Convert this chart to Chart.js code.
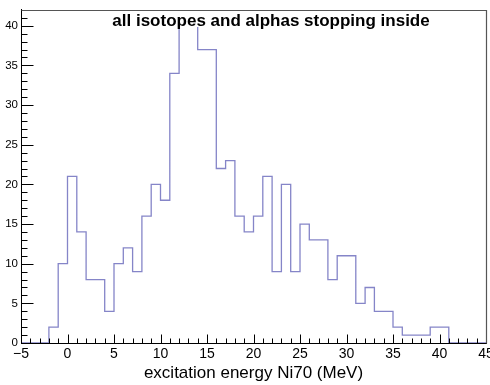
<!DOCTYPE html>
<html>
<head>
<meta charset="utf-8">
<script src="https://cdn.jsdelivr.net/npm/chart.js@4/dist/chart.umd.min.js"></script>
<style>
  html, body { margin: 0; padding: 0; background: #fff; }
  #wrap { width: 490px; height: 385px; position: relative; }
</style>
</head>
<body>
<div id="wrap"><canvas id="histo"></canvas></div>
<script>
// histogram bins (low edges, 1 MeV wide) and counts
const binLowEdges = [
  -5, -4, -3, -2, -1, 0, 1, 2, 3, 4,
  5, 6, 7, 8, 9, 10, 11, 12, 13, 14,
  15, 16, 17, 18, 19, 20, 21, 22, 23, 24,
  25, 26, 27, 28, 29, 30, 31, 32, 33, 34,
  35, 36, 37, 38, 39, 40, 41, 42, 43, 44
];
const lastEdge = 45;
const counts = [
  0, 0, 0, 2, 10, 21, 14, 8, 8, 4,
  10, 12, 9, 16, 20, 18, 34, 40, 40, 37,
  37, 22, 23, 16, 14, 16, 21, 9, 20, 9,
  15, 13, 13, 8, 11, 11, 5, 7, 4, 4,
  2, 1, 1, 1, 2, 2, 0, 0, 0, 0
];

const xTicks = [-5, 0, 5, 10, 15, 20, 25, 30, 35, 40, 45];
const yTicks = [0, 5, 10, 15, 20, 25, 30, 35, 40];

const titleText = 'all isotopes and alphas stopping inside';
const xTitle = 'excitation energy Ni70 (MeV)';

const lineColor = '#8585c8';
const fontFam = '"Liberation Sans", Arial, sans-serif';

// step points: each bin's low edge with its count, then the closing edge
const points = binLowEdges.map((x, i) => ({ x: x, y: counts[i] }));
points.push({ x: lastEdge, y: counts[counts.length - 1] });

// ROOT-like frame: inner ticks (major + minor), axes redrawn on top, title inside pad
const rootFrame = {
  id: 'rootFrame',
  afterDraw(chart) {
    const ctx = chart.ctx;
    const a = chart.chartArea;
    const xs = chart.scales.x;
    const ys = chart.scales.y;
    const bottom = Math.round(a.bottom) + 0.5;
    const left = Math.round(a.left) + 0.5;

    ctx.save();
    ctx.strokeStyle = '#000';
    ctx.lineWidth = 1;

    // axis lines over the histogram (the zero level runs along the x axis)
    ctx.beginPath();
    ctx.moveTo(left, a.top);
    ctx.lineTo(left, bottom);
    ctx.lineTo(a.right, bottom);
    ctx.stroke();

    // x axis ticks pointing up
    for (let v = xs.min; v <= xs.max; v++) {
      const px = Math.round(xs.getPixelForValue(v)) + 0.5;
      const len = (v % 5 === 0) ? 9 : 5;
      ctx.beginPath();
      ctx.moveTo(px, bottom);
      ctx.lineTo(px, bottom - len);
      ctx.stroke();
    }
    // y axis ticks pointing right
    for (let v = 0; v <= 41; v++) {
      const py = Math.round(ys.getPixelForValue(v)) + 0.5;
      const len = (v % 5 === 0) ? 12 : 6;
      ctx.beginPath();
      ctx.moveTo(left, py);
      ctx.lineTo(left + len, py);
      ctx.stroke();
    }

    // top + right frame
    ctx.strokeStyle = '#555';
    ctx.lineWidth = 1.2;
    ctx.beginPath();
    ctx.moveTo(left, Math.round(a.top) + 0.5);
    ctx.lineTo(Math.round(a.right) + 0.5, Math.round(a.top) + 0.5);
    ctx.lineTo(Math.round(a.right) + 0.5, bottom);
    ctx.stroke();

    // title sits inside the frame like in ROOT, on a white box
    ctx.font = 'bold 17px ' + fontFam;
    const w = ctx.measureText(titleText).width;
    ctx.fillStyle = '#fff';
    ctx.fillRect(271 - w / 2 - 2, 12, w + 4, 15);
    ctx.fillStyle = '#000';
    ctx.textAlign = 'center';
    ctx.textBaseline = 'middle';
    ctx.fillText(titleText, 271, 21);
    ctx.restore();
  }
};

new Chart(document.getElementById('histo'), {
  type: 'line',
  data: {
    datasets: [{
      label: 'counts',
      data: points,
      stepped: 'before',
      borderColor: lineColor,
      borderWidth: 1.3,
      pointRadius: 0,
      fill: false
    }]
  },
  options: {
    responsive: true,
    maintainAspectRatio: false,
    animation: false,
    layout: {
      padding: { top: 9, right: 4, left: 0, bottom: 1 }
    },
    scales: {
      x: {
        type: 'linear',
        min: -5,
        max: 45,
        afterBuildTicks: s => { s.ticks = xTicks.map(v => ({ value: v })); },
        afterFit: s => { s.height = 41; s.paddingLeft = 0; s.paddingRight = 0; },
        ticks: {
          color: '#000',
          padding: 3,
          maxRotation: 0,
          font: { family: fontFam, size: 14 },
          callback: v => String(v).replace('-', '\u2212')
        },
        grid: { display: true, drawOnChartArea: false, drawTicks: false },
        border: { display: true, color: '#000', width: 1 },
        title: {
          display: true,
          text: xTitle,
          color: '#000',
          padding: { top: 2, bottom: 0 },
          font: { family: fontFam, size: 17 }
        }
      },
      y: {
        type: 'linear',
        min: 0,
        max: 42,
        afterBuildTicks: s => { s.ticks = yTicks.map(v => ({ value: v })); },
        afterFit: s => { s.width = 21; },
        ticks: {
          color: '#000',
          padding: 3,
          font: { family: fontFam, size: 11.5 }
        },
        grid: { display: true, drawOnChartArea: false, drawTicks: false },
        border: { display: true, color: '#000', width: 1 }
      }
    },
    plugins: {
      legend: { display: false },
      tooltip: { enabled: false },
      title: { display: false }
    }
  },
  plugins: [rootFrame]
});
</script>
</body>
</html>
